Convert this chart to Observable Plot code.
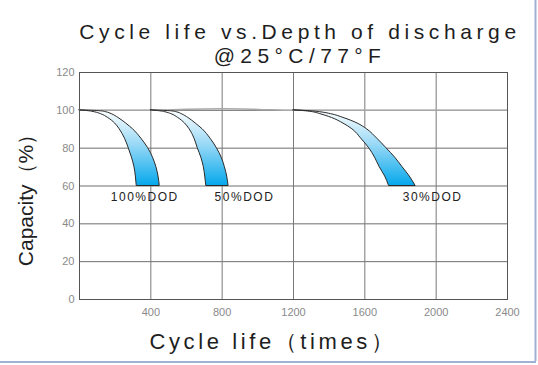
<!DOCTYPE html>
<html>
<head>
<meta charset="utf-8">
<script src="https://cdn.jsdelivr.net/npm/d3@7"></script>
<script src="https://cdn.jsdelivr.net/npm/@observablehq/plot@0.6"></script>
<style>
  html, body { margin: 0; padding: 0; background: #fff; }
  #chart { width: 538px; height: 365px; overflow: hidden; }
</style>
</head>
<body>
<div id="chart"></div>
<script>
// ---- data ----
const titleLines = ["Cycle life vs.Depth of discharge", "@25°C/77°F"];
const xLabel = "Cycle life（times）";
const yLabel = "Capacity（%）";
const xTicks = [400, 800, 1200, 1600, 2000, 2400];
const yTicks = [0, 20, 40, 60, 80, 100, 120];

const yLevels    = [100, 99.5, 99, 98, 96, 93, 90, 85, 80, 75, 70, 65, 60];
const dod100Left  = [0, 55, 85, 120, 160, 200, 225, 255, 276, 294, 308, 316, 321];
const dod100Right = [0, 120, 150, 180, 218, 262, 300, 347, 385, 412, 431, 443, 450];
const dod50Left   = [400, 452, 481, 515, 553, 592, 617, 645, 663, 683, 697, 705, 711];
const dod50Right  = [400, 515, 545, 573, 610, 652, 690, 735, 770, 797, 815, 828, 836];
const dod30Left   = [1200, 1270, 1310, 1350, 1415, 1480, 1530, 1580, 1624, 1657, 1683, 1714, 1736];
const dod30Right  = [1200, 1300, 1350, 1410, 1480, 1560, 1612, 1670, 1721, 1770, 1811, 1852, 1885];

const capX = [0, 400, 600, 800, 1000, 1200, 2400];
const capY = [100, 100, 100.6, 100.8, 100.5, 100, 100];

const dodLabels = ["100%DOD", "50%DOD", "30%DOD"];
const dodLabelX = [366, 925, 1980];
const dodLabelY = [54, 54, 54];

// ---- build tables ----
const band = (L, R) => yLevels.map((y, i) => ({y, x1: L[i], x2: R[i]}));
const bands = [band(dod100Left, dod100Right), band(dod50Left, dod50Right), band(dod30Left, dod30Right)];
const capLine = capX.map((x, i) => ({x, y: capY[i]}));
const labels = dodLabels.map((t, i) => ({t, x: dodLabelX[i], y: dodLabelY[i]}));

const plot = Plot.plot({
  width: 538,
  height: 365,
  marginLeft: 79,
  marginRight: 31,
  marginTop: 72,
  marginBottom: 66,
  style: {fontFamily: "'Liberation Sans', Arial, sans-serif", background: "#fff", color: "#222"},
  x: {domain: [0, 2400]},
  y: {domain: [0, 120]},
  marks: [
    Plot.ruleY([20, 40, 60, 80, 100], {stroke: "#6e6e6e", strokeWidth: 1}),
    Plot.ruleX([400, 800, 1200, 1600, 2000], {stroke: "#7a7a7a", strokeWidth: 1}),
    Plot.line(capLine, {x: "x", y: "y", stroke: "#a8a8a8", strokeWidth: 1.5, curve: "monotone-x"}),
    ...bands.map(b => Plot.areaX(b, {y: "y", x1: "x1", x2: "x2", fill: "url(#bandGrad)", stroke: "#2a2a2a", strokeWidth: 1, curve: "monotone-y"})),
    Plot.frame({stroke: "#555", strokeWidth: 1}),
    Plot.axisY(yTicks, {tickSize: 0, tickPadding: 5, fontSize: 11, fill: "#8a8a8a", label: null, tickFormat: d => String(d)}),
    Plot.axisX(xTicks, {tickSize: 0, tickPadding: 9, fontSize: 11, fill: "#8a8a8a", label: null, tickFormat: d => String(d)}),
    Plot.text(labels, {x: "x", y: "y", text: "t", fontSize: 12, fill: "#222"})
  ]
});

document.getElementById("chart").appendChild(plot);
const svg = d3.select(plot);

// gradient
const defs = svg.insert("defs", ":first-child");
const g = defs.append("linearGradient").attr("id", "bandGrad")
  .attr("x1", 0).attr("y1", 0).attr("x2", 0).attr("y2", 1);
g.append("stop").attr("offset", "0%").attr("stop-color", "#ffffff");
g.append("stop").attr("offset", "45%").attr("stop-color", "#9ad9f6");
g.append("stop").attr("offset", "100%").attr("stop-color", "#05a8ec");

// letter spacing for DOD labels
svg.selectAll("text").filter(function(){ return dodLabels.includes(this.textContent); })
  .style("letter-spacing", "1.5px");

// title lines
svg.append("text").attr("x", 300).attr("y", 39).attr("text-anchor", "middle")
  .style("font-size", "21px").style("letter-spacing", "4.6px").attr("fill", "#1e1e1e")
  .text(titleLines[0]);
svg.append("text").attr("x", 300).attr("y", 62.5).attr("text-anchor", "middle")
  .style("font-size", "21px").style("letter-spacing", "5.4px").attr("fill", "#1e1e1e")
  .text(titleLines[1]);

// x label
svg.append("text").attr("x", 273).attr("y", 349).attr("text-anchor", "middle")
  .style("font-size", "22px").style("letter-spacing", "3.6px").attr("fill", "#1e1e1e")
  .text(xLabel);

// y label
svg.append("text").attr("transform", "translate(33,195) rotate(-90)").attr("text-anchor", "middle")
  .style("font-family", "'Liberation Sans Narrow', 'Liberation Sans', Arial, sans-serif")
  .style("font-size", "21px").attr("fill", "#1e1e1e")
  .text(yLabel);

// page border (right & bottom)
svg.append("line").attr("x1", 535.5).attr("x2", 535.5).attr("y1", 0).attr("y2", 361)
  .attr("stroke", "#9fb2d6").attr("stroke-width", 2);
svg.append("line").attr("x1", 0).attr("x2", 536).attr("y1", 362).attr("y2", 362)
  .attr("stroke", "#9fb2d6").attr("stroke-width", 2);
</script>
</body>
</html>
